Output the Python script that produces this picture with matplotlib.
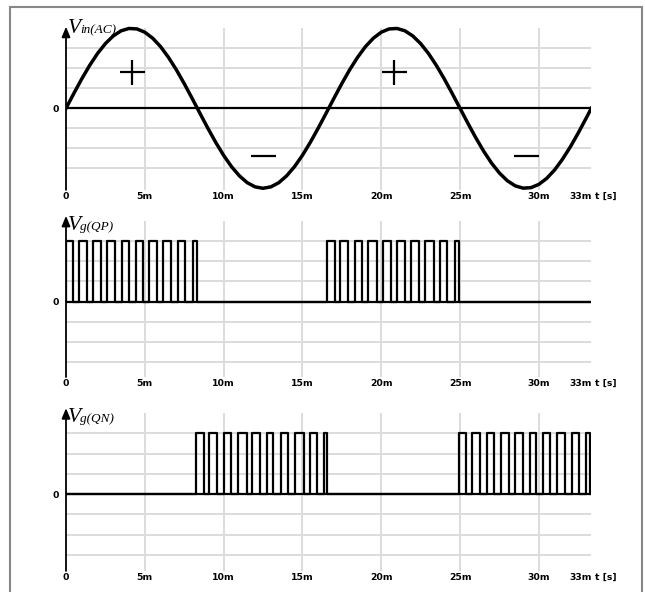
import numpy as np
import matplotlib
matplotlib.use("Agg")
import matplotlib.pyplot as plt
from matplotlib.patches import Rectangle

# time axis (ms)
T_END = 33.33
tick_t = [0, 5, 10, 15, 20, 25, 30]
tick_lab = ['0', '5m', '10m', '15m', '20m', '25m', '30m']

# Vin(AC), normalised to peak = 1, read every 0.5 ms
vin_t = [i * 0.5 for i in range(67)] + [33.33]
vin_v = [0, 0.187, 0.368, 0.536, 0.685, 0.809, 0.905, 0.969, 0.998, 0.992,
         0.951, 0.876, 0.771, 0.637, 0.482, 0.309, 0.125, -0.063, -0.249, -0.426,
         -0.588, -0.729, -0.844, -0.930, -0.982, -1.0, -0.982, -0.930, -0.844, -0.729,
         -0.588, -0.426, -0.249, -0.063, 0.125, 0.309, 0.482, 0.637, 0.771, 0.876,
         0.951, 0.992, 0.998, 0.969, 0.905, 0.809, 0.685, 0.536, 0.368, 0.187,
         0, -0.187, -0.368, -0.536, -0.685, -0.809, -0.905, -0.969, -0.998, -0.992,
         -0.951, -0.876, -0.771, -0.637, -0.482, -0.309, -0.125, 0]

# + / - signs on the half waves
sign_t = [4.17, 12.5, 20.83, 29.17]
sign_y = [0.45, -0.6, 0.45, -0.6]
sign_m = ['+', '_', '+', '_']

# gate pulses (ms): rising / falling edges
qp_on = [0, 0.83, 1.73, 2.58, 3.53, 4.44, 5.29, 6.18, 7.13, 8.04,
         16.55, 17.40, 18.35, 19.19, 20.11, 21.03, 21.89, 22.79, 23.75, 24.70]
qp_off = [0.43, 1.36, 2.20, 3.11, 4.02, 4.87, 5.76, 6.67, 7.56, 8.30,
          17.08, 17.92, 18.77, 19.73, 20.63, 21.48, 22.37, 23.32, 24.20, 24.91]
qn_on = [8.25, 9.10, 10.03, 10.94, 11.79, 12.74, 13.63, 14.54, 15.49, 16.38,
         24.91, 25.76, 26.71, 27.60, 28.51, 29.42, 30.27, 31.16, 32.11, 33.02]
qn_off = [8.76, 9.61, 10.46, 11.47, 12.32, 13.16, 14.11, 15.07, 15.92, 16.59,
          25.40, 26.29, 27.13, 28.13, 29.00, 29.84, 30.73, 31.68, 32.53, 33.22]
pulse_h = 0.75

W, H = 645, 592
fig = plt.figure(figsize=(W / 100, H / 100), dpi=100)

x0_px, xw_px = 66, 525.3
grid_c = '#dcdcdc'
lab_font = dict(family='DejaVu Sans', weight='bold', size=6.7)


def pulses(on, off):
    xs, ys = [0], [0]
    for s, e in zip(on, off):
        xs += [s, s, e, e]
        ys += [0, pulse_h, pulse_h, 0]
    xs.append(T_END)
    ys.append(0)
    return xs, ys


def panel(zero_px, ppu, ybot, tip, sub, base_y):
    ytop = 1.3
    top_px = zero_px - ytop * ppu
    bot_px = zero_px - ybot * ppu
    ax = fig.add_axes([x0_px / W, 1 - bot_px / H, xw_px / W, (bot_px - top_px) / H])
    ax.set_facecolor('none')
    ax.set_xlim(0, T_END)
    ax.set_ylim(ybot, ytop)
    for s in ax.spines.values():
        s.set_visible(False)
    ax.set_xticks(tick_t)
    ax.set_xticklabels(tick_lab, fontdict=lab_font)
    ax.set_yticks([0])
    ax.set_yticklabels(['0'], fontdict=lab_font)
    ax.tick_params(length=0, pad=1.5)
    ax.tick_params(axis='y', pad=5)

    ax.vlines(tick_t[1:], ybot, 1.0, color=grid_c, lw=1.4, zorder=1)
    ax.hlines([-0.75, -0.5, -0.25, 0.25, 0.5, 0.75], 0, T_END, color=grid_c, lw=1.4, zorder=1)
    ax.hlines(0, 0, T_END, color='black', lw=1.6, zorder=3)
    ax.annotate('', xy=(0, tip), xytext=(0, ybot),
                arrowprops=dict(arrowstyle='-|>,head_length=0.6,head_width=0.25',
                                lw=1.3, color='black', shrinkA=0, shrinkB=0), zorder=4)

    ax.annotate('V', xy=(0, base_y), xytext=(2, 0), textcoords='offset pixels',
                family='Liberation Serif', style='italic', fontsize=15.5, va='baseline')
    ax.annotate(sub, xy=(0, base_y), xytext=(14, 0), textcoords='offset pixels',
                family='Liberation Serif', style='italic', fontsize=9.5, va='baseline')

    ax.annotate('33m', xy=(T_END, ybot), xytext=(0, -1.5), textcoords='offset points',
                ha='right', va='top', **lab_font)
    ax.annotate('t [s]', xy=(T_END, ybot), xytext=(3, -1.5), textcoords='offset points',
                ha='left', va='top', **lab_font)
    return ax


ax1 = panel(108.3, 80, -1.02, 1.02, 'in(AC)', 0.94)
ax1.plot(vin_t, vin_v, color='black', lw=2.5, zorder=5, solid_joinstyle='round')
for t, y, m in zip(sign_t, sign_y, sign_m):
    ax1.plot(t, y, marker=m, color='black', markersize=18, mew=1.6, zorder=5)

ax2 = panel(301.7, 81, -0.93, 1.06, 'g(QP)', 0.885)
xs, ys = pulses(qp_on, qp_off)
ax2.plot(xs, ys, color='black', lw=1.6, zorder=5)

ax3 = panel(494, 81, -0.95, 1.06, 'g(QN)', 0.885)
xs, ys = pulses(qn_on, qn_off)
ax3.plot(xs, ys, color='black', lw=1.6, zorder=5)

# outer frame
fig.add_artist(Rectangle((10 / W, -0.05), 632 / W, 1.05 - 7 / H, fill=False,
                         ec='#888888', lw=1.5, transform=fig.transFigure))

fig.savefig('out.png', dpi=100)
